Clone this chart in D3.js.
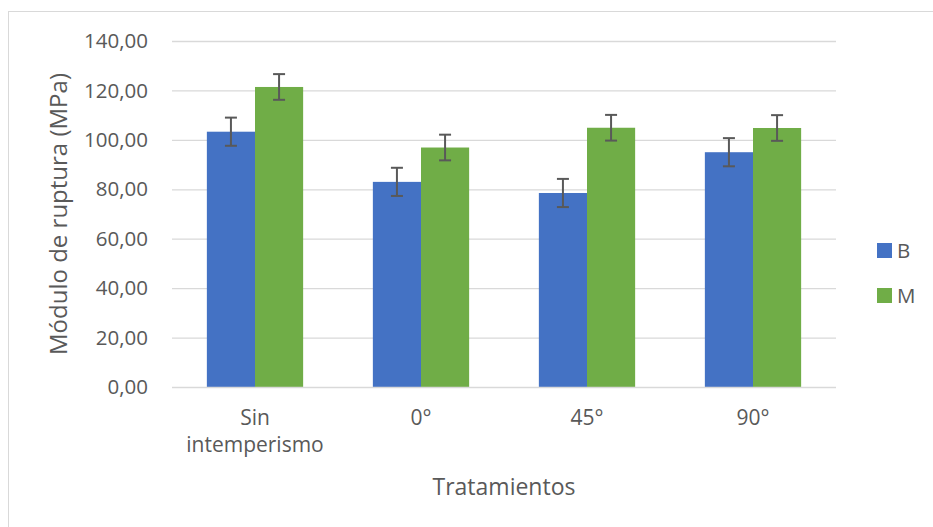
<!DOCTYPE html>
<html>
<head>
<meta charset="utf-8">
<script src="https://cdn.jsdelivr.net/npm/d3@7/dist/d3.min.js"></script>
<style>
  html, body { margin: 0; padding: 0; background: #fff; }
  svg { display: block; }
  text { font-family: "Open Sans", "Liberation Sans", sans-serif; fill: #595959; }
</style>
</head>
<body>
<svg id="chart" width="933" height="527"></svg>
<script>
// Treatments on the x axis
const categories = ["Sin intemperismo", "0°", "45°", "90°"];
const seriesNames = ["B", "M"];
// Modulus of rupture (MPa) per series
const valuesB = [103.3, 83.0, 78.5, 95.0];
const valuesM = [121.4, 96.9, 104.9, 104.8];
// Error bar half-lengths (MPa)
const errorsB = [5.7, 5.7, 5.7, 5.7];
const errorsM = [5.2, 5.2, 5.2, 5.2];
const yTicks = [0, 20, 40, 60, 80, 100, 120, 140];

const colors = { B: "#4472C4", M: "#70AD47" };

const svg = d3.select("#chart");
const W = 933, H = 527;
const plot = { left: 172, right: 836, top: 41, bottom: 387 };

// Outer chart frame
svg.append("rect")
  .attr("x", 8.5).attr("y", 11.5)
  .attr("width", W + 10).attr("height", H + 10)
  .attr("fill", "none").attr("stroke", "#d9d9d9").attr("stroke-width", 1);

const y = d3.scaleLinear().domain([0, 140]).range([plot.bottom, plot.top]);
const x0 = d3.scaleBand().domain(categories).range([plot.left, plot.right]).paddingInner(0.42).paddingOuter(0.21);
const x1 = d3.scaleBand().domain(seriesNames).range([0, x0.bandwidth()]);

// Gridlines
svg.append("g").selectAll("line").data(yTicks.filter(t => t > 0)).join("line")
  .attr("x1", plot.left).attr("x2", plot.right)
  .attr("y1", d => y(d) + 0.5).attr("y2", d => y(d) + 0.5)
  .attr("stroke", "#d9d9d9").attr("stroke-width", 1.3);

// Y axis labels
const fmt = d => d.toFixed(2).replace(".", ",");
svg.append("g").selectAll("text").data(yTicks).join("text")
  .attr("x", 148).attr("y", d => y(d))
  .attr("dy", "0.35em")
  .attr("text-anchor", "end")
  .style("font-size", "20.5px")
  .text(fmt);

const data = categories.map((c, i) => ({
  cat: c,
  items: [
    { s: "B", v: valuesB[i], e: errorsB[i] },
    { s: "M", v: valuesM[i], e: errorsM[i] }
  ]
}));

const groups = svg.append("g").selectAll("g").data(data).join("g")
  .attr("transform", d => `translate(${x0(d.cat)},0)`);

groups.selectAll("rect").data(d => d.items).join("rect")
  .attr("x", d => x1(d.s))
  .attr("y", d => y(d.v))
  .attr("width", x1.bandwidth())
  .attr("height", d => y(0) - y(d.v))
  .attr("fill", d => colors[d.s]);

// X axis baseline
svg.append("line")
  .attr("x1", plot.left).attr("x2", plot.right)
  .attr("y1", plot.bottom + 0.5).attr("y2", plot.bottom + 0.5)
  .attr("stroke", "#d9d9d9").attr("stroke-width", 1.3);

// Error bars
const eb = groups.selectAll("g.err").data(d => d.items).join("g").attr("class", "err")
  .attr("stroke", "#595959").attr("stroke-width", 2);
eb.append("line")
  .attr("x1", d => x1(d.s) + x1.bandwidth() / 2)
  .attr("x2", d => x1(d.s) + x1.bandwidth() / 2)
  .attr("y1", d => y(d.v + d.e)).attr("y2", d => y(d.v - d.e));
eb.append("line")
  .attr("x1", d => x1(d.s) + x1.bandwidth() / 2 - 6)
  .attr("x2", d => x1(d.s) + x1.bandwidth() / 2 + 6)
  .attr("y1", d => y(d.v + d.e)).attr("y2", d => y(d.v + d.e));
eb.append("line")
  .attr("x1", d => x1(d.s) + x1.bandwidth() / 2 - 6)
  .attr("x2", d => x1(d.s) + x1.bandwidth() / 2 + 6)
  .attr("y1", d => y(d.v - d.e)).attr("y2", d => y(d.v - d.e));

// Category labels (wrapped on spaces)
const catLabels = svg.append("g").selectAll("text").data(categories).join("text")
  .attr("x", d => x0(d) + x0.bandwidth() / 2)
  .attr("y", 425)
  .attr("text-anchor", "middle")
  .style("font-size", "21px");
catLabels.each(function(d) {
  const words = d.split(" ");
  const t = d3.select(this);
  words.forEach((w, i) => {
    t.append("tspan")
      .attr("x", x0(d) + x0.bandwidth() / 2)
      .attr("dy", i === 0 ? 0 : 27)
      .text(w);
  });
});

// Axis titles
svg.append("text")
  .attr("x", (plot.left + plot.right) / 2).attr("y", 495)
  .attr("text-anchor", "middle")
  .style("font-size", "23px")
  .text("Tratamientos");

svg.append("text")
  .attr("transform", `translate(67,${(plot.top + plot.bottom) / 2}) rotate(-90)`)
  .attr("text-anchor", "middle")
  .style("font-size", "24px")
  .text("Módulo de ruptura (MPa)");

// Legend
const legend = svg.append("g").selectAll("g").data(seriesNames).join("g")
  .attr("transform", (d, i) => `translate(877,${243 + i * 45})`);
legend.append("rect").attr("width", 15).attr("height", 15).attr("fill", d => colors[d]);
legend.append("text").attr("x", 20).attr("y", 8).attr("dy", "0.35em")
  .style("font-size", "20.5px").text(d => d);
</script>
</body>
</html>
